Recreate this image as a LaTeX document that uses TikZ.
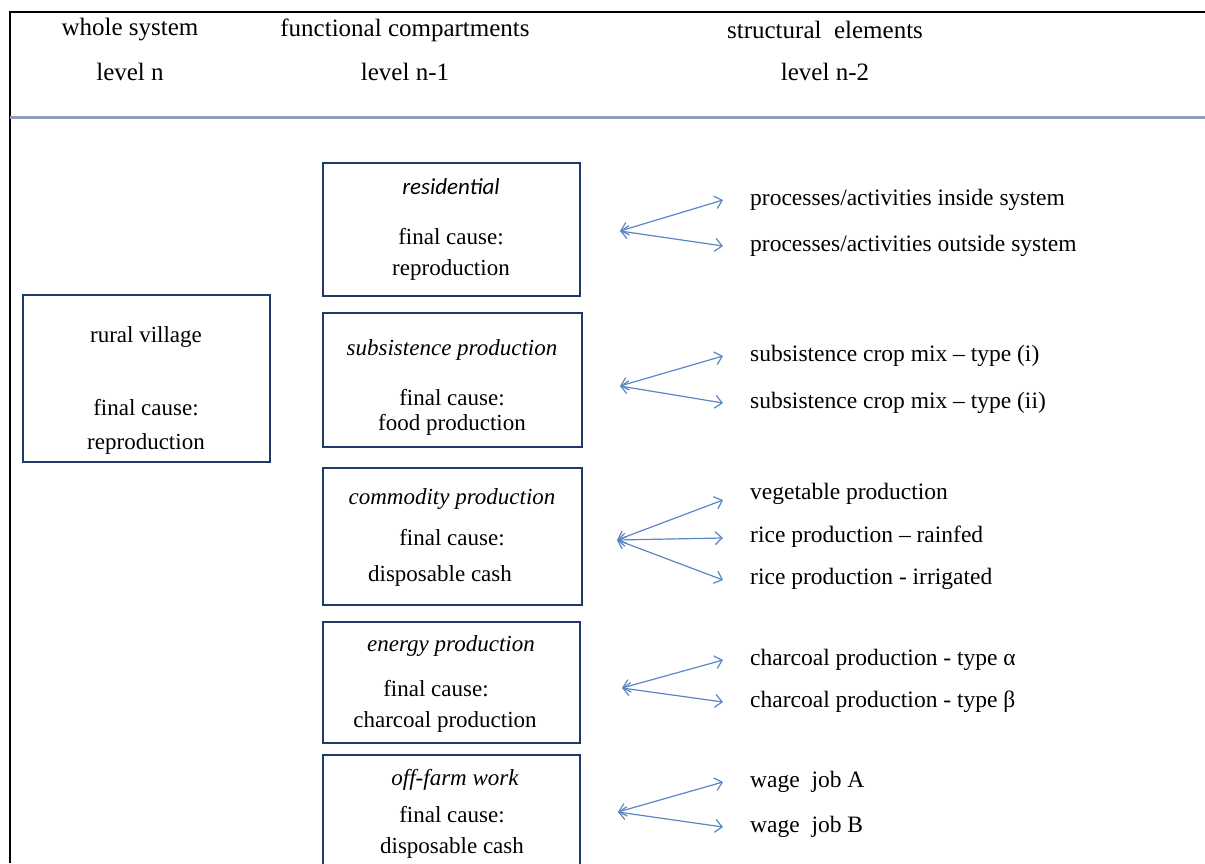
\documentclass[tikz,border=0pt]{standalone}
\usepackage{fontspec}
\setmainfont{Liberation Serif}
\newfontfamily\itsans{Carlito}
\usetikzlibrary{arrows.meta}
\definecolor{navy}{HTML}{1F3A68}
\definecolor{arrowblue}{HTML}{5B86C4}
\definecolor{ruleblue}{HTML}{8D9DBB}
\begin{document}
\begin{tikzpicture}[x=1pt,y=-1pt,
  box/.style={draw=navy,line width=2.8pt,inner sep=0pt},
  lbl/.style={font=\fontsize{23}{27}\selectfont,inner sep=0pt},
  ital/.style={font=\itshape\fontsize{23}{27}\selectfont,inner sep=0pt},
  hdr/.style={font=\fontsize{25}{29}\selectfont,inner sep=0pt},
  elem/.style={font=\fontsize{23.5}{27}\selectfont,inner sep=0pt,anchor=west},
  link/.style={draw=arrowblue,line width=1.2pt,{Straight Barb[length=7pt,width=13pt]}-{Straight Barb[length=7pt,width=13pt]}}]
\useasboundingbox (0,0) rectangle (1205,863);
\clip (0,0) rectangle (1205,863);
\draw[line width=2pt] (1205,12) -- (10,12) -- (10,863);
\draw[ruleblue,line width=3pt] (10,117) -- (1205,117);
% headers
\node[hdr] (h1) at (130,30) {whole system};
\node[hdr] (h1b) at (130,72) {level n};
\node[hdr] (h2) at (405,30) {functional compartments};
\node[hdr] (h2b) at (405,72) {level n-1};
\node[hdr] (h3) at (825,30) {structural\ \ elements};
\node[hdr] (h3b) at (825,72) {level n-2};
% whole system
\node[box,minimum width=247pt,minimum height=167pt] (rural) at (146.5,378.5) {};
\node[lbl] (r1) at (146,337) {rural village};
\node[lbl] (r2) at (146,408) {final cause:};
\node[lbl] (r3) at (146,444) {reproduction};
% compartments
\node[box,minimum width=257pt,minimum height=133pt] (res) at (451.5,229.5) {};
\node[lbl,font=\itsans\itshape\fontsize{23}{27}\selectfont] (res1) at (451,187) {residential};
\node[lbl] (res2) at (451,237) {final cause:};
\node[lbl] (res3) at (451,270) {reproduction};

\node[box,minimum width=259pt,minimum height=134pt] (sub) at (452.5,380) {};
\node[ital] (sub1) at (452,350) {subsistence production};
\node[lbl] (sub2) at (452,398) {final cause:};
\node[lbl] (sub3) at (452,425) {food production};

\node[box,minimum width=259pt,minimum height=137pt] (com) at (452.5,536.5) {};
\node[ital] (com1) at (452,499) {commodity production};
\node[lbl] (com2) at (452,538) {final cause:};
\node[lbl] (com3) at (440,576) {disposable cash};

\node[box,minimum width=257pt,minimum height=121pt] (ene) at (451.5,682.5) {};
\node[ital] (ene1) at (451,646) {energy production};
\node[lbl] (ene2) at (436,689) {final cause:};
\node[lbl] (ene3) at (445,722) {charcoal production};

\node[box,minimum width=257pt,minimum height=130pt] (off) at (451.5,820) {};
\node[ital] (off1) at (455,780) {off-farm work};
\node[lbl] (off2) at (452,815) {final cause:};
\node[lbl] (off3) at (452,848) {disposable cash};
% structural elements
\node[elem] (e1) at (750,200) {processes/activities inside system};
\node[elem] (e2) at (750,246) {processes/activities outside system};
\node[elem] (e3) at (750,356) {subsistence crop mix -- type (i)};
\node[elem] (e4) at (750,403) {subsistence crop mix -- type (ii)};
\node[elem] (e5) at (750,494) {vegetable production};
\node[elem] (e6) at (750,537) {rice production -- rainfed};
\node[elem] (e7) at (750,579) {rice production - irrigated};
\node[elem] (e8) at (750,660) {charcoal production - type α};
\node[elem] (e9) at (750,702) {charcoal production - type β};
\node[elem] (e10) at (750,782) {wage\ \ job A};
\node[elem] (e11) at (750,827) {wage\ \ job B};
% arrow hubs and ends
\coordinate (o1) at (620,231);
\coordinate (o2) at (620,386);
\coordinate (o3) at (617,540);
\coordinate (o4) at (622,688);
\coordinate (o5) at (618,812);
\foreach \e/\y in {e1/200,e2/246,e3/356,e4/403,e5/500,e6/538,e7/580,e8/660,e9/702,e10/782,e11/827}
  \coordinate (t\e) at (723,\y);
\draw[link] (o1) -- (te1);
\draw[link] (o1) -- (te2);
\draw[link] (o2) -- (te3);
\draw[link] (o2) -- (te4);
\draw[link] (o3) -- (te5);
\draw[link] (o3) -- (te6);
\draw[link] (o3) -- (te7);
\draw[link] (o4) -- (te8);
\draw[link] (o4) -- (te9);
\draw[link] (o5) -- (te10);
\draw[link] (o5) -- (te11);
\end{tikzpicture}
\end{document}
